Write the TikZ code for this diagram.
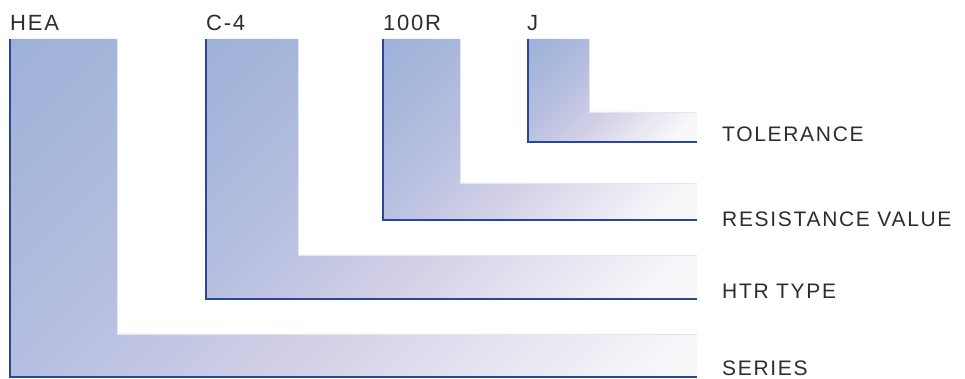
\documentclass[tikz,border=0pt]{standalone}
\usepackage{fontspec}
\setmainfont{Liberation Sans}
\definecolor{codeblue}{RGB}{157,177,216}
\definecolor{codemid}{RGB}{181,190,224}
\definecolor{codelav}{RGB}{210,208,230}
\definecolor{codepale}{RGB}{248,248,251}
\definecolor{edgeblue}{RGB}{40,70,155}
\definecolor{gleam}{RGB}{226,229,243}
\definecolor{labelgray}{RGB}{45,45,45}
\pgfdeclarehorizontalshading{codefade}{100bp}{color(0bp)=(codeblue); color(14.6bp)=(codeblue); color(32bp)=(codemid); color(46bp)=(codelav); color(66bp)=(codepale); color(100bp)=(codepale)}
\tikzset{
  bar/.style={shading=codefade, shading angle=-45},
  rim/.style={edgeblue, line width=1.2pt},
  lip/.style={gleam, line width=0.8pt},
  code/.style={anchor=base west, inner sep=0pt, text=labelgray, font=\fontsize{22}{26}\selectfont\addfontfeatures{LetterSpace=8}},
  field/.style={anchor=base west, inner sep=0pt, text=labelgray, font=\fontsize{21}{25}\selectfont\addfontfeatures{LetterSpace=8}}
}
\begin{document}
\begin{tikzpicture}[x=1pt,y=1pt]
\useasboundingbox (0,0) rectangle (965,379);
\begin{scope}
\clip (10,340) -- (117,340) -- (117,45) -- (697,45) -- (697,2) -- (10,2) -- cycle;
\shade[bar] (10,340) rectangle (697,-347);
\end{scope}
\begin{scope}
\clip (206,340) -- (298,340) -- (298,124) -- (697,124) -- (697,80) -- (206,80) -- cycle;
\shade[bar] (206,340) rectangle (697,-151);
\end{scope}
\begin{scope}
\clip (383,340) -- (460,340) -- (460,196) -- (697,196) -- (697,159) -- (383,159) -- cycle;
\shade[bar] (383,340) rectangle (697,26);
\end{scope}
\begin{scope}
\clip (528,340) -- (589,340) -- (589,267) -- (697,267) -- (697,237) -- (528,237) -- cycle;
\shade[bar] (528,340) rectangle (697,171);
\end{scope}
\draw[lip] (117,340) -- (117,45) -- (697,45);
\draw[lip] (298,340) -- (298,124) -- (697,124);
\draw[lip] (460,340) -- (460,196) -- (697,196);
\draw[lip] (589,340) -- (589,267) -- (697,267);
\draw[rim] (10,340) -- (10,2) -- (697,2);
\draw[rim] (206,340) -- (206,80) -- (697,80);
\draw[rim] (383,340) -- (383,159) -- (697,159);
\draw[rim] (528,340) -- (528,237) -- (697,237);
\node[code] (series) at (10,348) {HEA};
\node[code] (htr) at (206,348) {C-4};
\node[code] (res) at (383,348) {100R};
\node[code] (tol) at (527,348) {J};
\node[field] (tollabel) at (722,237) {TOLERANCE};
\node[field] (reslabel) at (722,152) {RESISTANCE VALUE};
\node[field] (htrlabel) at (722,80) {HTR TYPE};
\node[field] (serieslabel) at (722,3) {SERIES};
\end{tikzpicture}
\end{document}
